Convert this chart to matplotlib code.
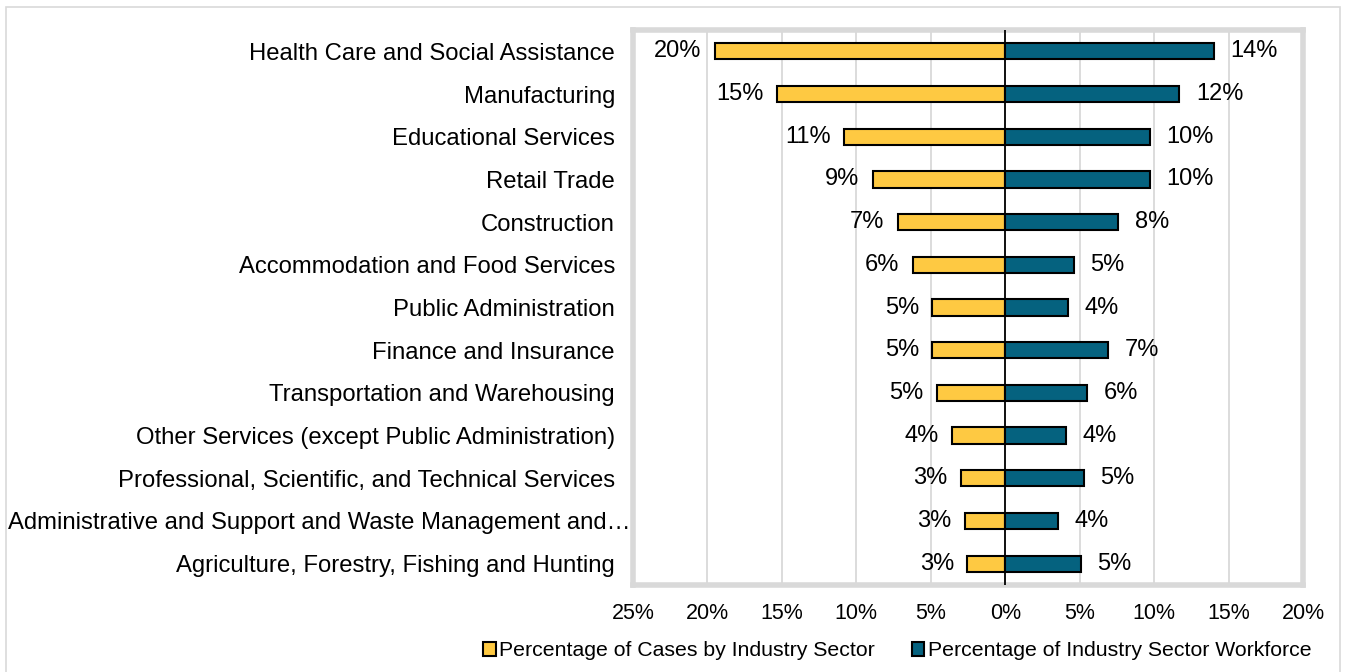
import matplotlib.pyplot as plt
from matplotlib.patches import Rectangle
from matplotlib.ticker import FuncFormatter
from matplotlib.transforms import ScaledTranslation

plt.rcParams['font.family'] = ['Liberation Sans', 'DejaVu Sans']

sectors = [
    "Health Care and Social Assistance",
    "Manufacturing",
    "Educational Services",
    "Retail Trade",
    "Construction",
    "Accommodation and Food Services",
    "Public Administration",
    "Finance and Insurance",
    "Transportation and Warehousing",
    "Other Services (except Public Administration)",
    "Professional, Scientific, and Technical Services",
    "Administrative and Support and Waste Management and\u2026",
    "Agriculture, Forestry, Fishing and Hunting",
]
# percent of cases vs percent of workforce, per sector
cases_pct = [19.5, 15.3, 10.8, 8.9, 7.2, 6.2, 4.9, 4.9, 4.6, 3.55, 3.0, 2.7, 2.55]
workforce_pct = [14.0, 11.7, 9.7, 9.7, 7.6, 4.6, 4.2, 6.9, 5.5, 4.1, 5.3, 3.55, 5.1]
x_ticks = [-25, -20, -15, -10, -5, 0, 5, 10, 15, 20]

yellow = '#FEC942'
blue = '#05627F'
grid_grey = '#D9D9D9'

fig = plt.figure(figsize=(13.47, 6.72), dpi=100)
ax = fig.add_axes([633 / 1347, 1 - 585 / 672, (1303 - 633) / 1347, (585 - 30) / 672])

ypos = list(range(len(sectors)))
ax.barh(ypos, [-v for v in cases_pct], height=0.38, color=yellow,
        edgecolor='black', linewidth=1.5, zorder=3,
        label='Percentage of Cases by Industry Sector')
ax.barh(ypos, workforce_pct, height=0.38, color=blue,
        edgecolor='black', linewidth=1.5, zorder=3,
        label='Percentage of Industry Sector Workforce')

for y, c, w in zip(ypos, cases_pct, workforce_pct):
    ax.text(-c - 0.9, y, f'{c:.0f}%', ha='right', va='center', fontsize=17)
    ax.text(w + 1.1, y, f'{w:.0f}%', ha='left', va='center', fontsize=17)

ax.axvline(0, color='black', linewidth=1.3, zorder=4)

ax.set_xlim(-25, 20)
ax.set_ylim(len(sectors) - 0.5, -0.5)
ax.set_xticks(x_ticks)
ax.xaxis.set_major_formatter(FuncFormatter(lambda v, p: f'{abs(v):.0f}%'))
ax.set_yticks(ypos)
ax.set_yticklabels(sectors)
ax.tick_params(axis='y', length=0, labelsize=17.2, pad=13)
ax.tick_params(axis='x', length=0, labelsize=15.5, pad=13)
ax.grid(axis='x', color=grid_grey, linewidth=1.3, zorder=0)
ax.set_axisbelow(True)
for s in ax.spines.values():
    s.set_color(grid_grey)
    s.set_linewidth(4)

# truncated label: let the ellipsis hang past the label column
for lbl in ax.get_yticklabels():
    if lbl.get_text().endswith('\u2026'):
        lbl.set_transform(lbl.get_transform() +
                          ScaledTranslation(16 / 100, 0, fig.dpi_scale_trans))

# thin frame round the whole chart
fig.patches.append(Rectangle((6 / 1347, -0.01), 1334 / 1347, 1 - 7 / 672 + 0.01,
                             transform=fig.transFigure, fill=False,
                             edgecolor=grid_grey, linewidth=1.2))

leg = fig.legend(loc='center', bbox_to_anchor=(897 / 1347, 1 - 651 / 672), ncol=2,
                 frameon=False, fontsize=15.3, handlelength=0.6, handleheight=0.6,
                 handletextpad=0.15, columnspacing=1.75)

fig.savefig('out.png', dpi=100)
